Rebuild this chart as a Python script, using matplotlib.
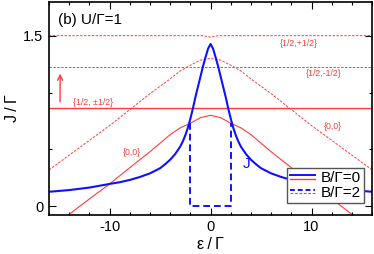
import numpy as np
import matplotlib
matplotlib.use("Agg")
import matplotlib.pyplot as plt
from matplotlib.lines import Line2D
from matplotlib.legend_handler import HandlerBase
from matplotlib.ticker import MultipleLocator

plt.rcParams['font.family'] = ['Liberation Sans', 'DejaVu Sans']
plt.rcParams['axes.unicode_minus'] = False

# exchange J for B=0 (symmetric in eps)
eps_j = [-16, -14, -12, -10, -9, -8, -7, -6, -5, -4.5, -4, -3.5, -3, -2.75, -2.5, -2.25,
         -2, -1.75, -1.5, -1.25, -1, -0.75, -0.5, -0.25, 0,
         0.25, 0.5, 0.75, 1, 1.25, 1.5, 1.75, 2, 2.25, 2.5, 2.75, 3, 3.5, 4, 4.5, 5,
         6, 7, 8, 9, 10, 12, 14, 16]
j_b0 = [0.128, 0.143, 0.165, 0.197, 0.212, 0.232, 0.258, 0.29, 0.335, 0.37, 0.41, 0.46, 0.526, 0.57, 0.625, 0.69,
        0.77, 0.86, 0.96, 1.05, 1.14, 1.23, 1.31, 1.385, 1.427,
        1.385, 1.31, 1.23, 1.14, 1.05, 0.96, 0.86, 0.77, 0.69, 0.625, 0.57, 0.526, 0.46, 0.41, 0.37, 0.335,
        0.29, 0.258, 0.232, 0.212, 0.197, 0.165, 0.143, 0.128]

# J for B=2: vanishes inside |eps|<2
eps_j2 = [-2, -2, 2, 2]
j_b2 = [0.73, 0.0, 0.0, 0.73]

# {0,0} level energies
eps_lev = [-16, -14, -12, -10, -8, -6, -4, -3, -2, -1, 0, 1, 2, 3, 4, 6, 8, 10, 12, 14, 16]
lev00_b0 = [-0.20, -0.07, 0.065, 0.197, 0.34, 0.48, 0.63, 0.69, 0.73, 0.78, 0.80,
            0.78, 0.73, 0.69, 0.63, 0.48, 0.34, 0.197, 0.065, -0.07, -0.20]
lev00_b2 = [0.32, 0.45, 0.58, 0.71, 0.85, 0.99, 1.12, 1.19, 1.24, 1.285, 1.30,
            1.285, 1.24, 1.19, 1.12, 0.99, 0.85, 0.71, 0.58, 0.45, 0.32]

# doublet levels
eps_flat = [-16, -0.8, 0, 0.8, 16]
lev_half_b0 = [0.862, 0.862, 0.862, 0.862, 0.862]
lev_plus_b2 = [1.5, 1.5, 1.487, 1.5, 1.5]
lev_minus_b2 = [1.224, 1.224, 1.224, 1.224, 1.224]

RED = '#ff3b3b'
BLUE = '#1010ff'


class TwoLines(HandlerBase):
    # blue line drawn slightly above the red one, like the original key
    def create_artists(self, legend, orig_handle, xdescent, ydescent,
                       width, height, fontsize, trans):
        arts = []
        for h, dy in zip(orig_handle, (1.4, -1.4)):
            y = height / 2 - ydescent + dy
            ln = Line2D([-xdescent, width - xdescent], [y, y])
            ln.update_from(h)
            ln.set_transform(trans)
            arts.append(ln)
        return arts


fig = plt.figure(figsize=(3.74, 2.54), dpi=100)
ax = fig.add_axes([0.131, 0.154, 0.864, 0.840])

ax.plot(eps_lev, lev00_b0, color=RED, lw=0.8)
ax.plot(eps_flat, lev_half_b0, color=RED, lw=1.0)
ax.plot(eps_lev, lev00_b2, color=RED, lw=0.7, dashes=(2.5, 1.5))
ax.plot(eps_flat, lev_plus_b2, color=RED, lw=0.7, dashes=(2.5, 1.5))
ax.plot(eps_flat, lev_minus_b2, color=RED, lw=0.7, dashes=(2.5, 1.5))
ax.plot(eps_j2, j_b2, color=BLUE, lw=1.4, dashes=(3.5, 2))
ax.plot(eps_j, j_b0, color=BLUE, lw=1.5)

rs = Line2D([], [], color=RED, lw=1.0)
rd = Line2D([], [], color=RED, lw=0.8, dashes=(2.5, 1.5))
bs = Line2D([], [], color=BLUE, lw=1.4)
bd = Line2D([], [], color=BLUE, lw=1.4, dashes=(2.5, 1.5))

ax.legend([(bs, rs), (bd, rd)], ['B/Γ=0', 'B/Γ=2'], handler_map={tuple: TwoLines()},
          loc='lower left', bbox_to_anchor=(0.737, 0.056), fontsize=11,
          fancybox=False, edgecolor='#555555', framealpha=1, borderpad=0.2,
          handlelength=1.6, handletextpad=0.4, labelspacing=0.05, borderaxespad=0)

ax.text(8.75, 1.43, '{1/2,+1/2}', color=RED, fontsize=6.3, ha='center', va='center')
ax.text(11.2, 1.165, '{1/2,-1/2}', color=RED, fontsize=6.3, ha='center', va='center')
ax.text(12.1, 0.70, '{0,0}', color=RED, fontsize=6.3, ha='center', va='center')
ax.text(-7.8, 0.47, '{0,0}', color=RED, fontsize=6.3, ha='center', va='center')
ax.text(-11.6, 0.913, '{1/2, ±1/2}', color=RED, fontsize=6.3, ha='center', va='center')
ax.annotate('', xy=(-14.9, 1.19), xytext=(-14.9, 0.895),
            arrowprops=dict(arrowstyle='->', color=RED, lw=1.0, mutation_scale=9))
ax.text(3.6, 0.374, 'J', color=BLUE, fontsize=11, ha='center', va='center')
ax.text(0.028, 0.915, '(b) U/Γ=1', transform=ax.transAxes, fontsize=11, ha='left', va='center')

ax.set_xlim(-16, 16)
ax.set_ylim(-0.075, 1.8)
ax.set_xticks([-10, 0, 10])
ax.set_yticks([0, 1.5])
ax.set_yticklabels(['0', '1.5'])
ax.xaxis.set_minor_locator(MultipleLocator(2))
ax.yaxis.set_minor_locator(MultipleLocator(0.5))
ax.tick_params(which='both', direction='in', top=True, right=True, labelsize=10.5, width=0.8)
ax.tick_params(which='major', length=5, pad=4)
ax.tick_params(which='minor', length=2.5)
for s in ax.spines.values():
    s.set_linewidth(1.2)
ax.set_xlabel('ε\u2009/\u2009Γ', fontsize=11.5, labelpad=2)
ax.set_ylabel('J\u2009/\u2009Γ', fontsize=11.5, labelpad=2)

fig.savefig('out.png', dpi=100)
